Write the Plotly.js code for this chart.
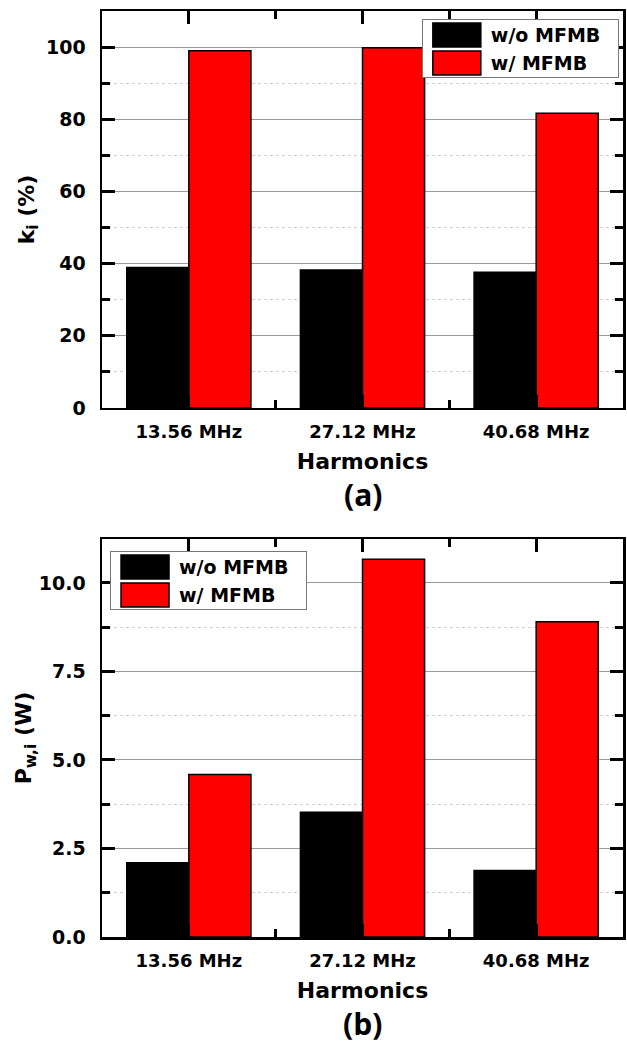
<!DOCTYPE html>
<html>
<head>
<meta charset="utf-8">
<script src="https://cdn.plot.ly/plotly-3.0.1.min.js"></script>
<style>
  html, body { margin: 0; padding: 0; background: #fff; }
  #chart { width: 627px; height: 1051px; }
</style>
</head>
<body>
<div id="chart"></div>
<script>
// ---- data ----
const categories = ["13.56 MHz", "27.12 MHz", "40.68 MHz"];
const seriesNames = ["w/o MFMB", "w/ MFMB"];
// panel (a): k_i (%)
const kWithout = [38.9, 38.2, 37.6];
const kWith = [99.0, 99.8, 81.7];
// panel (b): P_w,i (W)
const pWithout = [2.10, 3.52, 1.88];
const pWith = [4.59, 10.67, 8.90];
const yTicksA = [0, 20, 40, 60, 80, 100];
const yTicksB = [0, 2.5, 5.0, 7.5, 10.0];
const yTickTextB = ["0.0", "2.5", "5.0", "7.5", "10.0"];

const xIdx = categories.map((c, i) => i);
const FONT = "DejaVu Sans, sans-serif";
const barLine = { color: "#000", width: 1.5 };

const traces = [
  { type: "bar", x: xIdx, y: kWithout, name: seriesNames[0], xaxis: "x", yaxis: "y",
    marker: { color: "#000000", line: barLine }, legend: "legend" },
  { type: "bar", x: xIdx, y: kWith, name: seriesNames[1], xaxis: "x", yaxis: "y",
    marker: { color: "#ff0000", line: barLine }, legend: "legend" },
  { type: "bar", x: xIdx, y: pWithout, name: seriesNames[0], xaxis: "x2", yaxis: "y2",
    marker: { color: "#000000", line: barLine }, legend: "legend2" },
  { type: "bar", x: xIdx, y: pWith, name: seriesNames[1], xaxis: "x2", yaxis: "y2",
    marker: { color: "#ff0000", line: barLine }, legend: "legend2" }
];

function xAxis(anchor, titleText) {
  return {
    anchor: anchor, domain: [0, 1],
    range: [-0.5, 2.5],
    tickmode: "array", tickvals: xIdx, ticktext: categories,
    ticks: "inside", ticklen: 13, tickwidth: 3, tickcolor: "#000",
    minor: { tickmode: "array", tickvals: [0.5, 1.5], ticks: "inside", ticklen: 8, tickwidth: 3, tickcolor: "#000" },
    showline: true, linecolor: "#000", linewidth: 2.5, mirror: "ticks",
    showgrid: false, zeroline: false, layer: "above traces",
    tickfont: { family: FONT, size: 18, color: "#000", weight: "bold" },
    ticklabelstandoff: 6,
    title: { text: titleText, font: { family: FONT, size: 22, color: "#000", weight: "bold" }, standoff: 13 }
  };
}
function yAxis(anchor, domain, range, tickvals, ticktext, minorDtick, titleText, standoff) {
  return {
    anchor: anchor, domain: domain, range: range,
    tickmode: "array", tickvals: tickvals, ticktext: ticktext,
    ticks: "inside", ticklen: 13, tickwidth: 3, tickcolor: "#000",
    minor: { dtick: minorDtick, ticks: "inside", ticklen: 8, tickwidth: 3, tickcolor: "#000",
             showgrid: true, gridcolor: "#d0d0d0", griddash: "dot", gridwidth: 1 },
    showline: true, linecolor: "#000", linewidth: 2.5, mirror: "ticks",
    showgrid: true, gridcolor: "#999999", gridwidth: 1, zeroline: false, layer: "above traces",
    tickfont: { family: FONT, size: 19, color: "#000", weight: "bold" },
    ticklabelstandoff: 10,
    title: { text: titleText, font: { family: FONT, size: 22, color: "#000", weight: "bold" }, standoff: standoff }
  };
}

const legendStyle = {
  bgcolor: "#fff", bordercolor: "#777", borderwidth: 1,
  font: { family: FONT, size: 19, color: "#000", weight: "bold" },
  itemwidth: 58, tracegroupgap: 0, traceorder: "normal"
};

const layout = {
  width: 627, height: 1051,
  margin: { l: 102, r: 4, t: 11, b: 114 },
  paper_bgcolor: "#fff", plot_bgcolor: "#fff",
  barmode: "group", bargap: 0.285, bargroupgap: 0,
  showlegend: true,
  xaxis: xAxis("y", "Harmonics"),
  yaxis: yAxis("x", [0.5713, 1], [0, 110], yTicksA, yTicksA.map(String), 10, "k<sub>i</sub> (%)", 6),
  xaxis2: xAxis("y2", "Harmonics"),
  yaxis2: yAxis("x2", [0, 0.4298], [0, 11.24], yTicksB, yTickTextB, 1.25, "P<sub>w,i</sub> (W)", 1),
  legend: Object.assign({ x: 0.992, xanchor: "right", y: 0.9914, yanchor: "top" }, legendStyle),
  legend2: Object.assign({ x: 0.0154, xanchor: "left", y: 0.4168, yanchor: "top" }, legendStyle),
  annotations: [
    { text: "(a)", xref: "paper", yref: "paper", x: 0.5, y: 0.5713, yshift: -87, yanchor: "middle",
      showarrow: false, font: { family: "Open Sans, sans-serif", size: 30, color: "#000", weight: "bold" } },
    { text: "(b)", xref: "paper", yref: "paper", x: 0.5, y: 0, yshift: -86, yanchor: "middle",
      showarrow: false, font: { family: "Open Sans, sans-serif", size: 30, color: "#000", weight: "bold" } }
  ]
};

// legend box geometry of the original figure (wide swatches, tight rows)
const LEGEND_BOX_W = 196, LEGEND_BOX_H = 58, LEGEND_ROW = 28;

Plotly.newPlot("chart", traces, layout, { staticPlot: true }).then(function (gd) {
  gd.querySelectorAll("g.legend, g.legend2").forEach(function (lg) {
    lg.querySelectorAll(".legendpoints path").forEach(function (p) {
      p.setAttribute("d", "M24,12H-24V-12H24Z");
    });
    lg.querySelectorAll("g.traces").forEach(function (t, i) {
      t.setAttribute("transform", "translate(1," + (16 + LEGEND_ROW * i) + ")");
    });
    const bg = lg.querySelector("rect.bg");
    if (bg) {
      const oldW = parseFloat(bg.getAttribute("width")) || LEGEND_BOX_W;
      bg.setAttribute("width", LEGEND_BOX_W);
      bg.setAttribute("height", LEGEND_BOX_H);
      // right-anchored legend: keep its right edge fixed
      if (lg.classList.contains("legend")) {
        const m = /translate\(([-\d.]+)[ ,]+([-\d.]+)\)/.exec(lg.getAttribute("transform") || "");
        if (m) {
          const nx = parseFloat(m[1]) - (LEGEND_BOX_W - oldW);
          lg.setAttribute("transform", "translate(" + nx + "," + m[2] + ")");
        }
      }
    }
  });
});
</script>
</body>
</html>
